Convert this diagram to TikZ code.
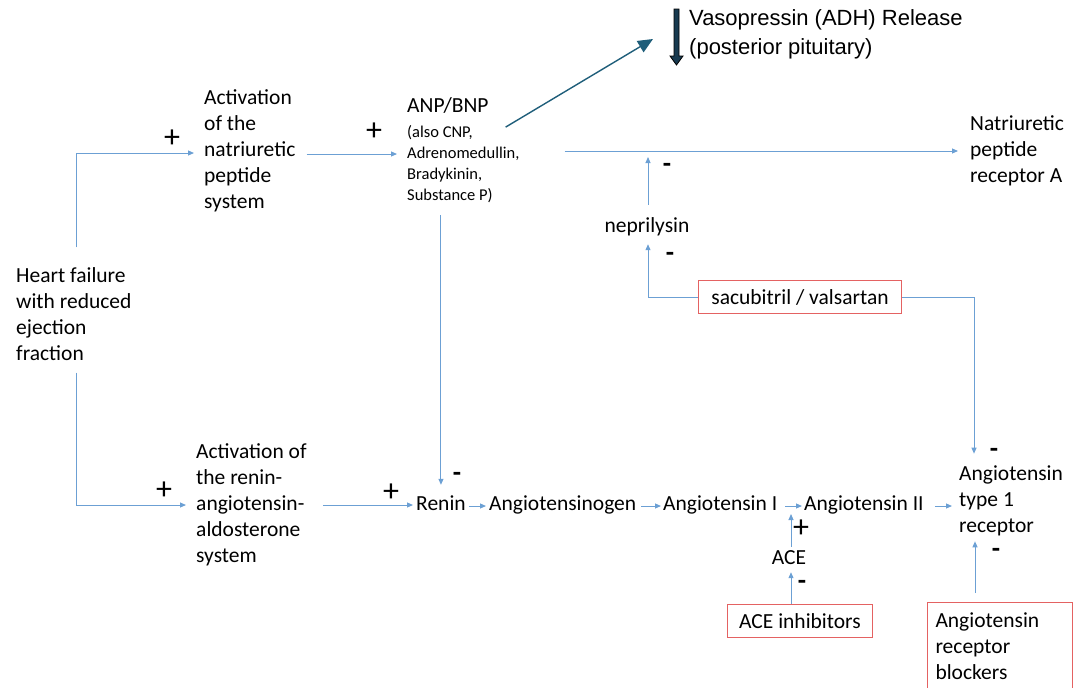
\documentclass[tikz,border=0pt]{standalone}
\usepackage{fontspec}
\setmainfont{Carlito}
\newfontfamily\vasofont{Liberation Sans}
\usepackage{xcolor}
\usepackage{tikz}
\usetikzlibrary{arrows.meta}

\definecolor{linkblue}{RGB}{108,160,212}
\definecolor{boxred}{RGB}{228,98,98}
\definecolor{vasoteal}{RGB}{31,94,122}
\definecolor{vasodark}{RGB}{24,58,80}

\begin{document}
\begin{tikzpicture}[x=1pt, y=-1pt,
    txt/.style={inner sep=0pt, align=left, font=\fontsize{21.5}{26}\selectfont},
    lbl/.style={inner sep=0pt, text height=15pt, text depth=5pt, font=\fontsize{21.5}{26}\selectfont},
    smalltxt/.style={inner sep=0pt, align=left, font=\fontsize{16.5}{21}\selectfont},
    drug/.style={draw=boxred, line width=1pt, inner sep=0pt, font=\fontsize{21.5}{26}\selectfont},
    plussign/.style={inner sep=0pt, font=\fontsize{32}{32}\selectfont},
    minussign/.style={inner sep=0pt, font=\bfseries\fontsize{27}{27}\selectfont},
    conn/.style={draw=linkblue, line width=1pt, -{Triangle[length=6pt,width=5pt]}}]
    \useasboundingbox (0,0) rectangle (1074,688);
    \clip (0,0) rectangle (1074,688);

    % left column
    \node[txt, anchor=west] (hf) at (16,314) {Heart failure\\with reduced\\ejection\\fraction};
    \node[txt, anchor=west] (actnp) at (204,151) {Activation\\of the\\natriuretic\\peptide\\system};
    \node[txt, anchor=west] (actraas) at (196,505) {Activation of\\the renin-\\angiotensin-\\aldosterone\\system};

    % natriuretic peptides
    \node[lbl, anchor=west] (anp) at (407,107) {ANP/BNP};
    \node[smalltxt, anchor=west] (anpx) at (407,164) {(also CNP,\\Adrenomedullin,\\Bradykinin,\\Substance P)};
    \node[txt, anchor=west] (npra) at (970,151) {Natriuretic\\peptide\\receptor A};
    \node[lbl] (nep) at (647,227) {neprilysin};
    \node[drug, minimum width=203pt, minimum height=33pt] (sv) at (800,297) {sacubitril / valsartan};
    \node[txt, anchor=west, font=\vasofont\fontsize{22}{29}\selectfont] (vaso) at (689,34) {Vasopressin (ADH) Release\\(posterior pituitary)};

    % renin-angiotensin chain
    \node[lbl, anchor=west] (renin) at (416,505) {Renin};
    \node[lbl, anchor=west] (agt) at (489,505) {Angiotensinogen};
    \node[lbl, anchor=west] (ang1) at (663,505) {Angiotensin I};
    \node[lbl, anchor=west] (ang2) at (804,505) {Angiotensin II};
    \node[txt, anchor=west] (at1r) at (959,501) {Angiotensin\\type 1\\receptor};
    \node[lbl] (ace) at (789,559) {ACE};
    \node[drug, minimum width=145pt, minimum height=33pt] (acei) at (800,621) {ACE inhibitors};
    \node[drug, anchor=north west, inner xsep=8pt, text width=129pt, align=left, minimum height=88pt] (arb) at (927,602) {Angiotensin\\receptor\\blockers};

    % connectors
    \draw[conn] ([shift={(3,-20)}]hf.north) |- ([shift={(-10,2)}]actnp.west);
    \draw[conn] ([shift={(3,12)}]hf.south) |- ([shift={(-10,0)}]actraas.west);
    \draw[conn] ([shift={(11,3)}]actnp.east) coordinate (c1) -- ([shift={(-10,0)}]anpx.west |- c1);
    \draw[conn] ([shift={(45,0)}]anpx.east |- npra.west) -- ([shift={(-12,0)}]npra.west);
    \draw[conn] ([shift={(1,-12)}]nep.north) -- ([shift={(1,6)}]nep.north |- npra.west);
    \draw[conn] (sv.west) -| ([shift={(1,7)}]nep.south);
    \draw[conn] (sv.east) -| ([shift={(15,-12)}]at1r.north west);
    \draw[conn] ([shift={(0,12)}]anpx.south -| renin.north) -- ([shift={(0,-10)}]renin.north);
    \draw[conn] ([shift={(16,0)}]actraas.east |- renin.west) -- ([shift={(-3,0)}]renin.west);
    \draw[conn] ([shift={(3,1)}]renin.east) -- ([shift={(-3,1)}]agt.west);
    \draw[conn] ([shift={(5,1)}]agt.east) -- ([shift={(-2,1)}]ang1.west);
    \draw[conn] ([shift={(8,1)}]ang1.east) coordinate (aa) -- ([shift={(-2,1)}]ang2.west);
    \draw[conn] ([shift={(11,1)}]ang2.east) -- ([shift={(-7,1)}]ang2.east -| at1r.west);
    \draw[conn] ([shift={(2,-2)}]ace.north) -- ([shift={(2,8)}]ace.north |- aa);
    \draw[conn] ([shift={(2,0)}]ace.south |- acei.north) -- ([shift={(2,3)}]ace.south);
    \draw[conn] ([shift={(16,-9)}]at1r.south west |- arb.north) -- ([shift={(16,5)}]at1r.south west);
    \draw[vasoteal, line width=1.4pt, -{Triangle[length=15pt,width=13pt]}] ([shift={(-14,2)}]anpx.north east) -- ([shift={(-36,5)}]vaso.west);
    \filldraw[fill=vasodark, draw=black, line width=0.8pt] (674,9) -- (679,9) -- (679,56) -- (683,56) -- (676.5,65) -- (670,56) -- (674,56) -- cycle;

    % signs
    \node[plussign] (p1) at (172,139) {+};
    \node[plussign] (p2) at (374,132) {+};
    \node[plussign] (p3) at (164,491) {+};
    \node[plussign] (p4) at (391,493) {+};
    \node[plussign] (p5) at (801,529) {+};
    \node[minussign] (m1) at (667,168) {-};
    \node[minussign] (m2) at (670,257) {-};
    \node[minussign] (m3) at (457,477) {-};
    \node[minussign] (m4) at (994,453) {-};
    \node[minussign] (m5) at (996,553) {-};
    \node[minussign] (m6) at (802,585) {-};
\end{tikzpicture}
\end{document}
